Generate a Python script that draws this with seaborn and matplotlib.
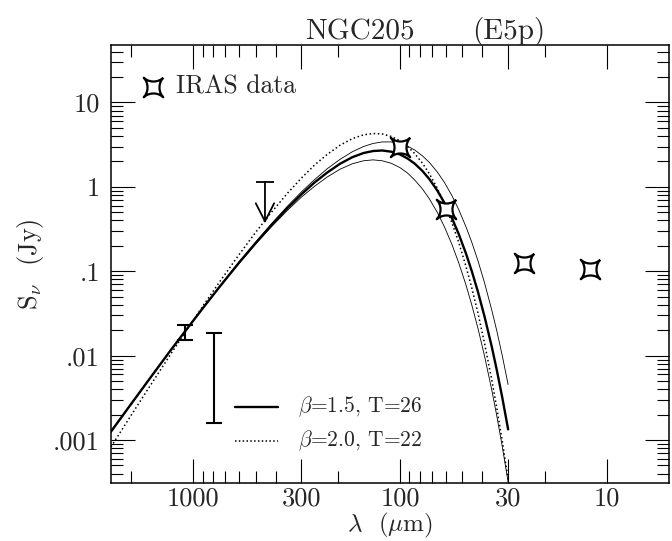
import numpy as np
import matplotlib
matplotlib.use("Agg")
import matplotlib.pyplot as plt
import seaborn as sns
from matplotlib.path import Path
from matplotlib.ticker import FixedLocator, FixedFormatter, NullFormatter, LogLocator

# ---- data ----
wave = [2500, 2000, 1600, 1300, 1100, 900, 750, 600, 500, 420, 350, 300, 260, 225, 195,
        170, 150, 135, 122, 110, 100, 92, 85, 78, 72, 66, 61, 56, 52, 48, 45, 42, 39,
        36, 34, 32, 30]
fit_b15_t26 = [0.00126, 0.00267, 0.00563, 0.0112, 0.0192, 0.0364, 0.0644, 0.127, 0.215, 0.349,
               0.562, 0.816, 1.12, 1.48, 1.88, 2.25, 2.52, 2.66, 2.7, 2.61, 2.42, 2.17, 1.89,
               1.55, 1.23, 0.903, 0.647, 0.423, 0.276, 0.163, 0.101, 0.0573, 0.029, 0.0128,
               0.00668, 0.00317, 0.00134]
fit_upper = [0.00125, 0.00265, 0.00559, 0.0111, 0.0192, 0.0366, 0.0651, 0.129, 0.221, 0.363,
             0.592, 0.87, 1.21, 1.64, 2.12, 2.61, 3.01, 3.27, 3.41, 3.41, 3.27, 3.04, 2.74,
             2.34, 1.94, 1.5, 1.13, 0.781, 0.538, 0.338, 0.222, 0.134, 0.0728, 0.0348,
             0.0195, 0.00994, 0.00455]
fit_lower = [0.00128, 0.0027, 0.00567, 0.0112, 0.0192, 0.0362, 0.0637, 0.124, 0.209, 0.334,
             0.529, 0.755, 1.01, 1.31, 1.62, 1.88, 2.04, 2.09, 2.04, 1.9, 1.69, 1.46, 1.21,
             0.949, 0.717, 0.498, 0.337, 0.206, 0.126, 0.0692, 0.0402, 0.0212, 0.00986,
             0.00393, 0.00191, 0.000832, 0.000319]
fit_b20_t22 = [0.000831, 0.00196, 0.00458, 0.01, 0.0186, 0.0385, 0.0735, 0.158, 0.288, 0.496,
               0.843, 1.27, 1.8, 2.43, 3.12, 3.73, 4.14, 4.29, 4.24, 3.95, 3.51, 3.01, 2.49,
               1.92, 1.42, 0.963, 0.634, 0.373, 0.22, 0.115, 0.0641, 0.0321, 0.014, 0.00517,
               0.00236, 0.000962, 0.00034]

iras_wave = [100, 60, 25, 12]
iras_flux = [3.0, 0.54, 0.124, 0.106]

mm_wave = [1100, 790]
mm_low = [0.0153, 0.00158]
mm_high = [0.0231, 0.0184]

lim_wave = 450
lim_top = 1.15
lim_tip = 0.37

xmaj = [1000, 300, 100, 30, 10]
xmaj_lab = ['1000', '300', '100', '30', '10']
xmin = [2000, 900, 800, 700, 600, 500, 400, 200, 90, 80, 70, 60, 50, 40, 20]
ymaj = [1e-3, 1e-2, 1e-1, 1, 10]
ymaj_lab = ['.001', '.01', '.1', '1', '10']

label_a = r'$\beta$=1.5, T=26'
label_b = r'$\beta$=2.0, T=22'

# ---- style ----
sns.set_style("white")
plt.rcParams['font.family'] = ['cmr10', 'DejaVu Serif']
plt.rcParams['mathtext.fontset'] = 'cm'
plt.rcParams['axes.formatter.use_mathtext'] = True
plt.rcParams['axes.unicode_minus'] = False

# four-pointed concave star marker (shape only)
t = np.linspace(0, 2 * np.pi, 240)
px = np.sign(np.cos(t)) * np.abs(np.cos(t)) ** 3.4
py = np.sign(np.sin(t)) * np.abs(np.sin(t)) ** 3.4
c, s = np.cos(np.pi / 4), np.sin(np.pi / 4)
star = Path(np.column_stack([px * c - py * s, px * s + py * c]))

fig = plt.figure(figsize=(6.72, 5.41), dpi=100)
ax = fig.add_axes([111/672, 1-483/541, 558/672, 438/541])
ax.set_xscale('log')
ax.set_yscale('log')

kw = dict(ax=ax, color='black', sort=False, estimator=None, legend=False)
sns.lineplot(x=wave, y=fit_lower, lw=0.6, **kw)
sns.lineplot(x=wave, y=fit_upper, lw=0.6, **kw)
sns.lineplot(x=wave, y=fit_b20_t22, lw=1.1, ls=(0, (1, 1.7)), **kw)
sns.lineplot(x=wave, y=fit_b15_t26, lw=1.7, **kw)

ax.plot(iras_wave, iras_flux, ls='none', marker=star, ms=14, mfc='white',
        mec='black', mew=1.6, zorder=5)

# mm error bars
for w, lo, hi in zip(mm_wave, mm_low, mm_high):
    ax.plot([w, w], [lo, hi], color='black', lw=1.5)
    ax.plot([w, w], [lo, hi], ls='none', marker='_', ms=12, mew=1.5, color='black')

# 450 micron upper limit
ax.plot([lim_wave], [lim_top], ls='none', marker='_', ms=13, mew=1.3, color='black')
ax.annotate('', xy=(lim_wave, lim_tip), xytext=(lim_wave, lim_top),
            arrowprops=dict(arrowstyle='->,head_length=0.65,head_width=0.33',
                            color='black', lw=1.3, shrinkA=0, shrinkB=0,
                            mutation_scale=20))

ax.set_xlim(2500, 5)
ax.set_ylim(3.1e-4, 48)

ax.xaxis.set_major_locator(FixedLocator(xmaj))
ax.xaxis.set_major_formatter(FixedFormatter(xmaj_lab))
ax.xaxis.set_minor_locator(FixedLocator(xmin))
ax.xaxis.set_minor_formatter(NullFormatter())
ax.yaxis.set_major_locator(FixedLocator(ymaj))
ax.yaxis.set_major_formatter(FixedFormatter(ymaj_lab))
ax.yaxis.set_minor_locator(LogLocator(base=10, subs=np.arange(2, 10), numticks=50))
ax.yaxis.set_minor_formatter(NullFormatter())

ax.tick_params(which='both', direction='in', top=True, right=True, bottom=True,
               left=True, width=0.8, color='black', labelsize=19)
ax.tick_params(which='major', length=17)
ax.tick_params(which='minor', length=8.5)
ax.tick_params(axis='x', pad=2.5)
ax.tick_params(axis='y', pad=8)
for sp in ax.spines.values():
    sp.set_linewidth(1.1)
    sp.set_color('black')

ax.set_ylabel(r'S$_\nu$  (Jy)', fontsize=19, labelpad=5)
# x-axis title placed just above the bottom edge, centred under the axes
fig.text(390/672, 1/541, r'$\lambda$  ($\mu$m)', fontsize=18, ha='center', va='bottom')

# legend (manual, as in the reference)
tr = ax.transAxes
ax.plot([0.0753], [0.904], transform=tr, ls='none', marker=star, ms=14,
        mfc='white', mec='black', mew=1.6)
ax.text(0.1165, 0.904, 'IRAS data', transform=tr, fontsize=18.5, va='center', ha='left')
ax.plot([0.222, 0.299], [0.1735, 0.1735], transform=tr, color='black', lw=1.7)
ax.plot([0.222, 0.299], [0.0959, 0.0959], transform=tr, color='black', lw=1.1,
        ls=(0, (1, 1.5)))
ax.text(0.335, 0.1735, label_a, transform=tr, fontsize=15.5, va='center', ha='left')
ax.text(0.335, 0.0959, label_b, transform=tr, fontsize=15.5, va='center', ha='left')

fig.text(305/672, 1-39/541, 'NGC205', fontsize=21, ha='left', va='baseline')
fig.text(472/672, 1-39/541, '(E5p)', fontsize=21, ha='left', va='baseline')

fig.savefig('out.png', dpi=100)
